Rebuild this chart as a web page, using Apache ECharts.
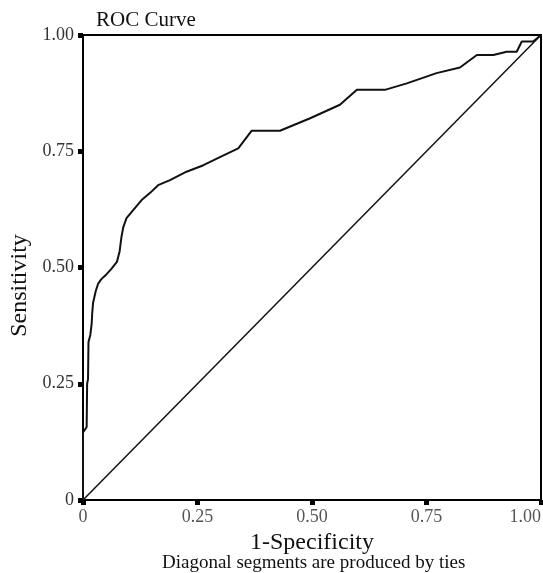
<!DOCTYPE html>
<html>
<head>
<meta charset="utf-8">
<script src="https://cdn.jsdelivr.net/npm/echarts@6/dist/echarts.min.js"></script>
<style>
  html, body { margin: 0; padding: 0; background: #fff; }
  #chart { width: 543px; height: 573px; }
</style>
</head>
<body>
<div id="chart"></div>
<script>
// ROC curve points
const fpr = [0, 0, 0.008, 0.009, 0.011, 0.012, 0.016, 0.019, 0.02, 0.022, 0.028, 0.033, 0.04, 0.048,
  0.062, 0.074, 0.08, 0.084, 0.088, 0.095, 0.11, 0.128, 0.146, 0.164, 0.19, 0.226, 0.263, 0.3,
  0.339, 0.368, 0.43, 0.496, 0.561, 0.598, 0.659, 0.707, 0.772, 0.823, 0.86, 0.896, 0.925,
  0.947, 0.958, 0.983, 1]
const tpr = [0, 0.145, 0.157, 0.25, 0.26, 0.34, 0.355, 0.38, 0.4, 0.424, 0.45, 0.465, 0.475, 0.482,
  0.497, 0.512, 0.535, 0.566, 0.587, 0.606, 0.624, 0.645, 0.66, 0.677, 0.688, 0.706, 0.72, 0.738,
  0.756, 0.794, 0.794, 0.821, 0.85, 0.882, 0.882, 0.896, 0.918, 0.93, 0.957, 0.957, 0.964,
  0.964, 0.986, 0.986, 1]
const refX = [0, 1]
const refY = [0, 1]
const tickLabels = ['0', '0.25', '0.50', '0.75', '1.00']

const serif = '"Liberation Serif", "DejaVu Serif", serif'
const fmt = (v) => tickLabels[Math.round(v * 4)]

const chart = echarts.init(document.getElementById('chart'))
chart.setOption({
  animation: false,
  backgroundColor: '#fff',
  title: [
    {
      text: 'ROC Curve', left: 91, top: 5,
      textStyle: { fontFamily: serif, fontSize: 21, fontWeight: 'normal', color: '#111' }
    },
    {
      text: 'Diagonal segments are produced by ties', left: 157, top: 549,
      textStyle: { fontFamily: serif, fontSize: 19, fontWeight: 'normal', color: '#111' }
    }
  ],
  grid: {
    left: 83, right: 2, top: 35, bottom: 73,
    outerBoundsMode: 'none', containLabel: false,
    show: true, borderColor: '#000', borderWidth: 2
  },
  xAxis: {
    type: 'value', min: 0, max: 1, interval: 0.25,
    name: '1-Specificity', nameLocation: 'middle', nameGap: 29,
    nameTextStyle: { fontFamily: serif, fontSize: 24, color: '#111' },
    axisLine: { lineStyle: { color: '#000', width: 2 } },
    axisTick: { length: 5, lineStyle: { color: '#000', width: 5 } },
    axisLabel: {
      formatter: fmt, fontFamily: serif, fontSize: 18, color: '#555', margin: 8,
      alignMaxLabel: 'right'
    },
    splitLine: { show: false }
  },
  yAxis: {
    type: 'value', min: 0, max: 1, interval: 0.25,
    name: 'Sensitivity', nameLocation: 'middle', nameGap: 50,
    nameTextStyle: { fontFamily: serif, fontSize: 24, color: '#111', padding: [0, 36, 0, 0] },
    axisLine: { show: true, lineStyle: { color: '#000', width: 2 } },
    axisTick: { show: true, length: 5, lineStyle: { color: '#000', width: 5 } },
    axisLabel: { formatter: fmt, fontFamily: serif, fontSize: 18, color: '#333', margin: 9 },
    splitLine: { show: false }
  },
  series: [
    {
      type: 'line', showSymbol: false, silent: true,
      data: refX.map((x, i) => [x, refY[i]]),
      lineStyle: { color: '#111', width: 1.5 }
    },
    {
      type: 'line', showSymbol: false, silent: true,
      data: fpr.map((x, i) => [x, tpr[i]]),
      lineStyle: { color: '#111', width: 2 }
    }
  ]
})
</script>
</body>
</html>
